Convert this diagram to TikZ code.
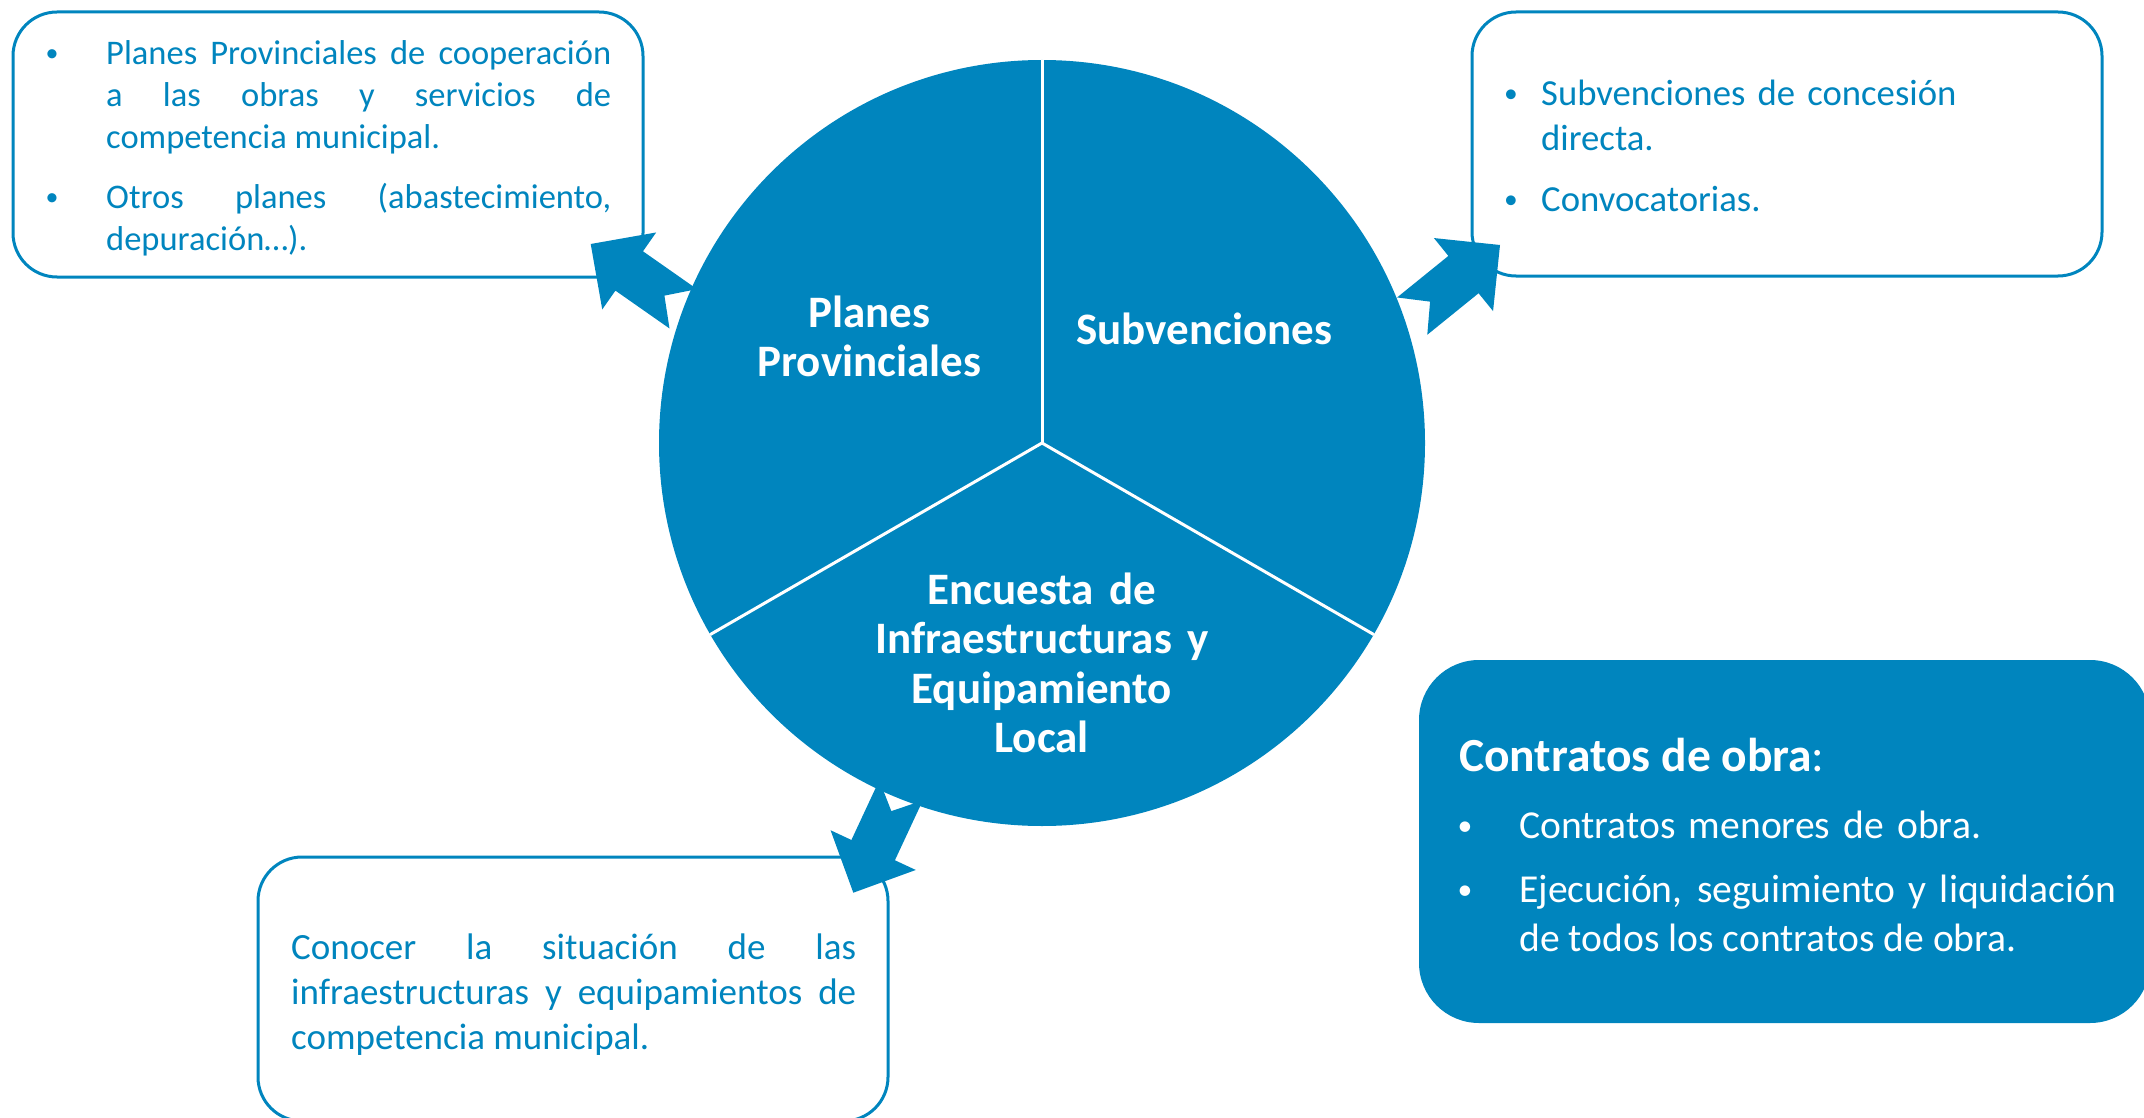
\documentclass[tikz,border=0pt]{standalone}
\usepackage{fontspec}
\setmainfont{Carlito}
\usetikzlibrary{calc}
\definecolor{cblue}{RGB}{0,133,190}
\hyphenpenalty=10000 \exhyphenpenalty=10000 \tolerance=10000 \hbadness=10000
\newcommand{\notcharrow}[2]{% #1 tip coordinate, #2 axis angle (tip -> tail)
  \fill[cblue] (#1)
   -- ($(#1)+(#2:47)+({#2-90}:47)$)
   -- ($(#1)+(#2:47)+({#2-90}:24)$)
   -- ($(#1)+(#2:113)+({#2-90}:24)$)
   -- ($(#1)+(#2:90)$)
   -- ($(#1)+(#2:113)+({#2+90}:24)$)
   -- ($(#1)+(#2:47)+({#2+90}:24)$)
   -- ($(#1)+(#2:47)+({#2+90}:47)$)
   -- cycle;}
\newcommand{\smallbul}{\raisebox{3pt}{\scalebox{0.75}{•}}}
\tikzset{
  outbox/.style={draw=cblue, line width=3pt, rounded corners=44pt, fill=white, inner sep=0pt},
  fillbox/.style={fill=cblue, rounded corners=60pt, inner sep=0pt},
  bodytxt/.style={text=cblue, inner sep=0pt, anchor=base west},
  bul/.style={inner sep=0pt, anchor=base},
  pietxt/.style={text=white, inner sep=0pt, anchor=base, align=center, text width=420pt,
    font=\fontsize{45pt}{49.6pt}\selectfont\bfseries},
  divider/.style={draw=white, line width=3pt}
}
\begin{document}
\begin{tikzpicture}[x=1pt,y=-1pt]
\useasboundingbox (0,0) rectangle (2144,1118);
\clip (0,0) rectangle (2144,1118);

% boxes
\node[outbox, minimum width=630pt, minimum height=265pt] (tlbox) at (328,144.5) {};
\node[outbox, minimum width=630pt, minimum height=264pt] (trbox) at (1787,144) {};
\node[outbox, minimum width=630pt, minimum height=264pt] (blbox) at (573,989) {};
\node[fillbox, minimum width=731pt, minimum height=363pt] (crbox) at (1784.5,841.5) {};

% circle
\node[circle, fill=cblue, minimum size=766pt, inner sep=0pt] (circ) at (1042,443) {};
\draw[divider] (circ.center) -- (circ.90);
\draw[divider] (circ.center) -- (circ.210);
\draw[divider] (circ.center) -- (circ.330);

% arrows
\coordinate (tltip) at (590.7,244);
\coordinate (trtip) at (1500,245);
\coordinate (bltip) at (853.3,892.7);
\notcharrow{tltip}{35}
\notcharrow{trtip}{141}
\notcharrow{bltip}{-65}

% circle labels
\node[pietxt] (lp) at (869.4,327) {Planes\\Provinciales};
\node[pietxt] (ls) at (1204.3,344.5) {Subvenciones};
\node[pietxt] (le) at (1041.7,604) {Encuesta de\\Infraestructuras y\\Equipamiento\\Local};

% top-left box text
\begin{scope}[font=\fontsize{34.5pt}{42pt}\selectfont]
\node[bul, text=cblue] (tlb1) at (52,65) {\smallbul};
\node[bodytxt, text width=505pt, align=justify] (tlt1) at (106,65)
  {Planes Provinciales de cooperación\linebreak a las obras y servicios de\linebreak competencia municipal.};
\node[bul, text=cblue] (tlb2) at (52,208) {\smallbul};
\node[bodytxt, text width=505pt, align=justify] (tlt2) at (106,208)
  {Otros planes (abastecimiento,\linebreak depuración…).};
\end{scope}

% top-right box text
\begin{scope}[font=\fontsize{36.7pt}{45pt}\selectfont]
\node[bul, text=cblue] (trb1) at (1511,105.5) {\smallbul};
\node[bodytxt, text width=520pt, align=left] (trt1) at (1541,105.5)
  {Subvenciones de concesión\\directa.};
\node[bul, text=cblue] (trb2) at (1511,211.5) {\smallbul};
\node[bodytxt, text width=520pt, align=left] (trt2) at (1541,211.5) {Convocatorias.};
\end{scope}

% bottom-left box text
\node[bodytxt, text width=565pt, align=justify, font=\fontsize{37pt}{45pt}\selectfont] (blt) at (291,959.5)
  {Conocer la situación de las\linebreak infraestructuras y equipamientos de\linebreak competencia municipal.};

% contratos box text
\node[bodytxt, text=white, font=\fontsize{47.5pt}{57pt}\selectfont] (crt) at (1459,771)
  {\textbf{Contratos de obra}:};
\begin{scope}[font=\fontsize{39.6pt}{48.5pt}\selectfont]
\node[bul, text=white] (crb1) at (1465,838) {\smallbul};
\node[bodytxt, text=white, text width=597pt, align=left] (crt1) at (1519,838) {Contratos menores de obra.};
\node[bul, text=white] (crb2) at (1465,902.5) {\smallbul};
\node[bodytxt, text=white, text width=597pt, align=justify] (crt2) at (1519,902.5)
  {Ejecución, seguimiento y liquidación\linebreak de todos los contratos de obra.};
\end{scope}
\end{tikzpicture}
\end{document}
